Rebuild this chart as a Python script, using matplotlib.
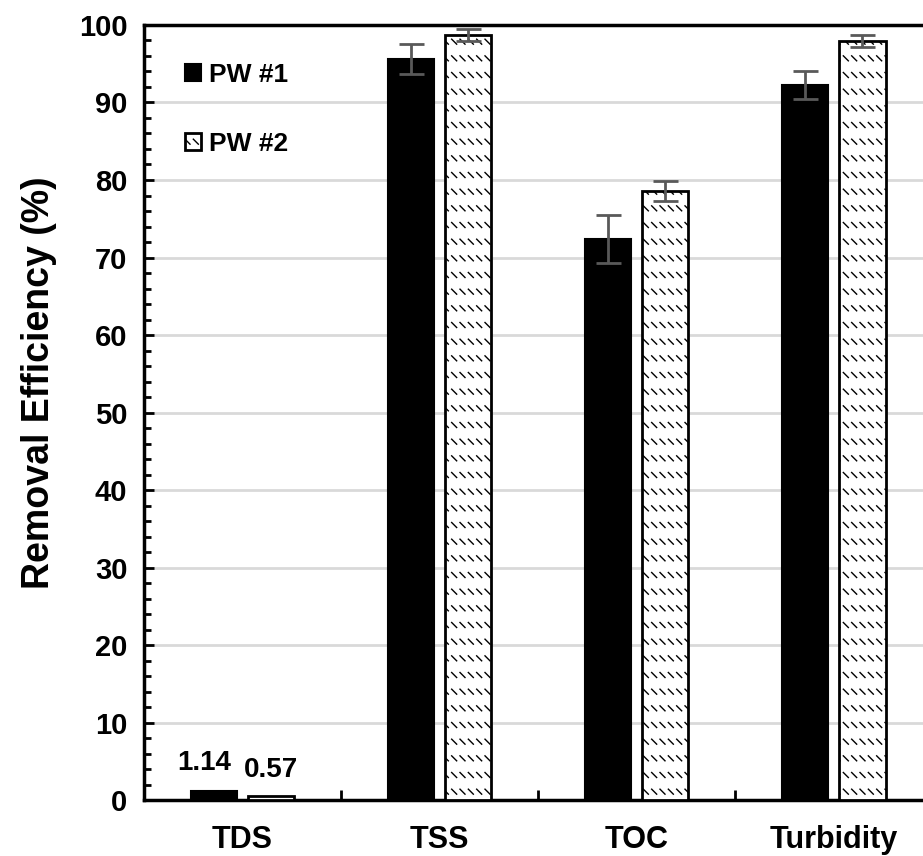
import numpy as np
import matplotlib.pyplot as plt
import matplotlib.hatch as mhatch
from matplotlib.path import Path
from matplotlib.ticker import MultipleLocator

plt.rcParams['font.family'] = ['Liberation Sans', 'DejaVu Sans']
plt.rcParams['font.weight'] = 'bold'
plt.rcParams['hatch.linewidth'] = 1.0

categories = ['TDS', 'TSS', 'TOC', 'Turbidity']
pw1 = [1.14, 95.6, 72.4, 92.2]
pw1_err = [0, 1.9, 3.1, 1.8]
pw2 = [0.57, 98.7, 78.6, 97.9]
pw2_err = [0, 0.8, 1.3, 0.8]
labels = ['PW #1', 'PW #2']


# rows of short "\" dashes, like the excel fill pattern; used in place of 'O'
class DashRows(mhatch.HatchPatternBase):
    rows, cols = 6, 12

    def __init__(self, hatch, density):
        self.num_vertices = 2 * self.rows * self.cols if 'O' in hatch else 0

    def set_vertices_and_codes(self, vertices, codes):
        k = 0
        for r in range(self.rows):
            y0 = (r + 0.5) / self.rows
            for c in range(self.cols):
                x0 = (c + 0.2) / self.cols
                vertices[k] = (x0, y0 + 0.025)
                vertices[k + 1] = (x0 + 0.05, y0 - 0.025)
                codes[k] = Path.MOVETO
                codes[k + 1] = Path.LINETO
                k += 2


mhatch._hatch_types = [t for t in mhatch._hatch_types if t is not mhatch.LargeCircles] + [DashRows]

fig = plt.figure(figsize=(9.23, 8.56), dpi=100)
ax = fig.add_axes([0.156, 0.0654, 0.854, 0.9054])

x = np.arange(len(categories))
w = 0.235
off = w / 2 + 0.028
errkw = dict(ecolor='#595959', elinewidth=2, capsize=9, capthick=2)

ax.bar(x - off, pw1, w, color='black', edgecolor='black', linewidth=1.5,
       yerr=[e if e else np.nan for e in pw1_err], error_kw=errkw, label=labels[0], zorder=3)
ax.bar(x + off, pw2, w, color='white', edgecolor='black', linewidth=2,
       hatch='O', yerr=[e if e else np.nan for e in pw2_err], error_kw=errkw,
       label=labels[1], zorder=3)

# value labels for the TDS bars
ax.text(x[0] - off - 0.05, pw1[0] + 2.0, f'{pw1[0]:.2f}', ha='center', va='bottom', fontsize=20, fontweight='bold')
ax.text(x[0] + off, pw2[0] + 1.6, f'{pw2[0]:.2f}', ha='center', va='bottom', fontsize=20, fontweight='bold')

ax.set_xlim(-0.5, len(categories) - 0.5)
ax.set_ylim(0, 100)
ax.yaxis.set_major_locator(MultipleLocator(10))
ax.yaxis.set_minor_locator(MultipleLocator(2))
ax.set_xticks(x)
ax.set_xticklabels(categories, fontsize=22, fontweight='bold')
ax.set_xticks(x[:-1] + 0.5, minor=True)
ax.tick_params(axis='x', which='major', length=0, pad=18)
ax.tick_params(axis='x', which='minor', direction='in', length=7, width=2)
ax.tick_params(axis='y', which='major', direction='in', length=7, width=2, labelsize=21, pad=12)
ax.tick_params(axis='y', which='minor', direction='in', length=5, width=2)
for lab in ax.get_yticklabels():
    lab.set_fontweight('bold')

ax.grid(axis='y', color='#d9d9d9', linewidth=2, zorder=0)
ax.set_axisbelow(True)
for s in ax.spines.values():
    s.set_linewidth(2.5)

ax.set_ylabel('Removal Efficiency (%)', fontsize=27, fontweight='bold')
ax.yaxis.set_label_coords(-0.11, 0.538)

leg = ax.legend(loc='upper left', bbox_to_anchor=(0.022, 0.982), frameon=False, fontsize=19,
                handlelength=0.6, handleheight=0.6, handletextpad=0.3, labelspacing=1.72)
for t in leg.get_texts():
    t.set_fontweight('bold')

fig.savefig('out.png', dpi=100)
